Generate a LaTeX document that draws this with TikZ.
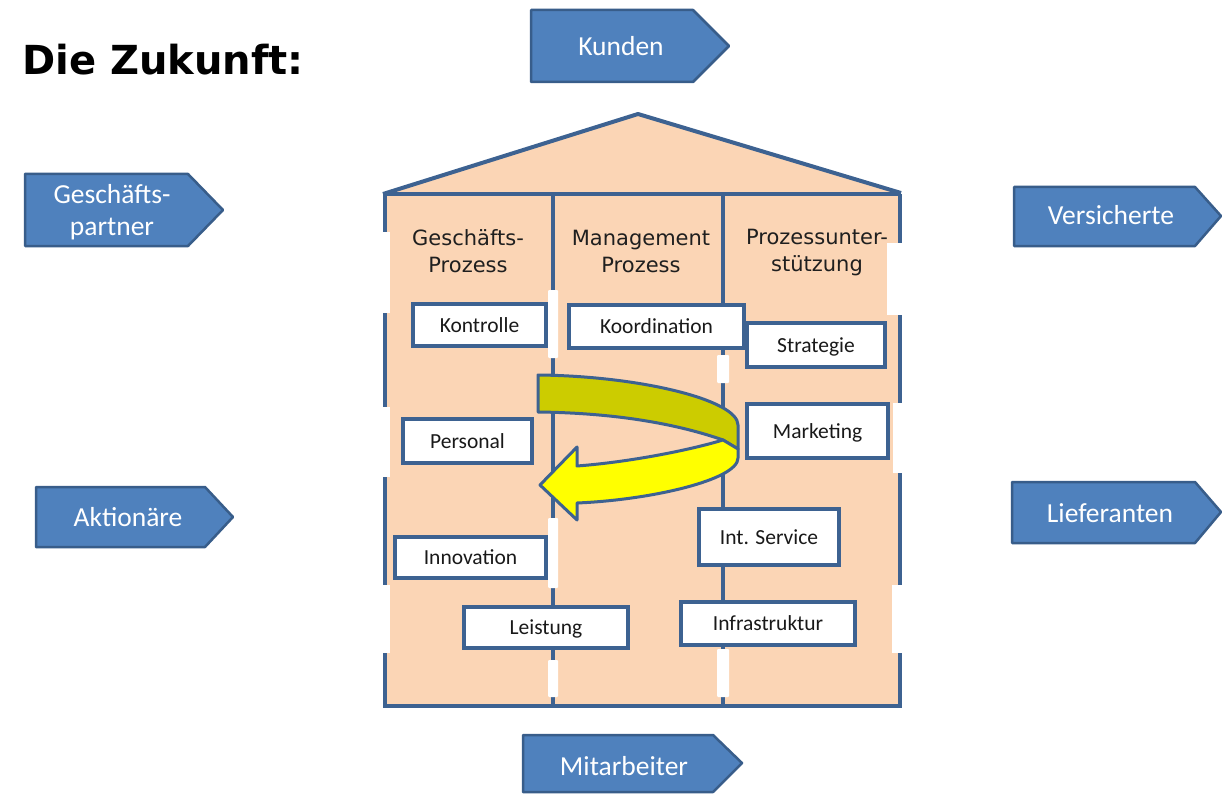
\documentclass[tikz,border=0pt]{standalone}
\usepackage{fontspec}
\setmainfont{Carlito}
\newfontfamily\verd{DejaVu Sans}
\definecolor{peach}{HTML}{FBD5B5}
\definecolor{lineblue}{HTML}{3D6291}
\definecolor{pfill}{HTML}{4F81BD}
\definecolor{pdraw}{HTML}{385D8A}
\definecolor{arrolive}{HTML}{CCCC00}
\definecolor{arryellow}{HTML}{FFFF00}
\begin{document}
\begin{tikzpicture}[x=1pt,y=-1pt,
  penta/.style={fill=pfill, draw=pdraw, line width=2.5pt, line join=round},
  ptext/.style={text=white, font=\fontsize{27.5}{32}\selectfont, align=center, inner sep=0pt},
  boxnode/.style={draw=lineblue, line width=3.5pt, fill=white, inner sep=0pt,
    font=\fontsize{21.5}{24}\selectfont, text=black!90, text height=18pt, text depth=4pt},
  hdr/.style={font=\verd\fontsize{21}{27}\selectfont, align=center, text=black!88, inner sep=0pt},
  wall/.style={draw=lineblue, line width=4pt},
  gap/.style={fill=white},
  arr/.style={draw=lineblue, line width=3pt, line join=round}]
\useasboundingbox[fill=white] (0,0) rectangle (1222,794);

% title
\node[anchor=base west, inner sep=0pt, font=\verd\bfseries\fontsize{40}{48}\selectfont] (title) at (22,75) {Die Zukunft:};

% pentagons
\draw[penta] (531,10) -- (693,10) -- (729,46) -- (693,82) -- (531,82) -- cycle;
\node[ptext, anchor=base] (kunden) at (621,56) {Kunden};
\draw[penta] (25,174) -- (188,174) -- (223,210) -- (188,246) -- (25,246) -- cycle;
\node[ptext] (gpartner) at (112,212) {Geschäfts-\\partner};
\draw[penta] (1014,187) -- (1195,187) -- (1221,216) -- (1195,246) -- (1014,246) -- cycle;
\node[ptext, anchor=base] (versicherte) at (1111,225) {Versicherte};
\draw[penta] (1012,482) -- (1195,482) -- (1221,512) -- (1195,543) -- (1012,543) -- cycle;
\node[ptext, anchor=base] (lieferanten) at (1110,522) {Lieferanten};
\draw[penta] (36,487) -- (205,487) -- (233,517) -- (205,547) -- (36,547) -- cycle;
\node[ptext, anchor=base] (aktionaere) at (128,526) {Aktionäre};
\draw[penta] (523,735) -- (713,735) -- (742,763) -- (713,792) -- (523,792) -- cycle;
\node[ptext, anchor=base] (mitarbeiter) at (624,775) {Mitarbeiter};

% house
\fill[peach] (383,194) -- (638,114) -- (901,194) -- (900,706) -- (385,706) -- cycle;
\draw[wall, line join=round] (383,194) -- (638,114) -- (901,193);
\draw[wall] (383,194) -- (901,194);
\draw[wall] (385,194) -- (385,706) -- (900,706) -- (900,194);
\draw[wall] (553,194) -- (553,706);
\draw[wall] (723,194) -- (723,706);

% gaps in the walls
\fill[gap] (370,232) rectangle (390,313);
\fill[gap] (370,407) rectangle (390,477);
\fill[gap] (370,585) rectangle (390,653);
\fill[gap, rounded corners=1pt] (548,290) rectangle (558,358);
\fill[gap, rounded corners=1pt] (548,518) rectangle (558,588);
\fill[gap, rounded corners=1pt] (548,660) rectangle (558,697);
\fill[gap, rounded corners=1pt] (717,355) rectangle (729,383);
\fill[gap, rounded corners=1pt] (717,649) rectangle (729,697);
\fill[gap] (887,243) rectangle (906,315);
\fill[gap] (893,403) rectangle (906,473);
\fill[gap] (892,585) rectangle (906,653);

% column headers
\node[hdr] (h1) at (468,251) {Geschäfts-\\Prozess};
\node[hdr] (h2) at (641,251) {Management\\Prozess};
\node[hdr] (h3) at (817,253) {Prozessunter-\\stützung};

% boxes
\node[boxnode, minimum width=133pt, minimum height=42pt] (kontrolle) at (479.5,325) {Kontrolle};
\node[boxnode, minimum width=175pt, minimum height=43pt] (koordination) at (656.5,326.5) {Koordination};
\node[boxnode, minimum width=138pt, minimum height=44pt] (strategie) at (816,345) {Strategie};
\node[boxnode, minimum width=129pt, minimum height=44pt] (personal) at (467.5,441) {Personal};
\node[boxnode, minimum width=141pt, minimum height=54pt] (marketing) at (817.5,431) {Marketing};
\node[boxnode, minimum width=151pt, minimum height=41pt] (innovation) at (470.5,557.5) {Innovation};
\node[boxnode, minimum width=140pt, minimum height=56pt] (intservice) at (769,537) {Int. Service};
\node[boxnode, minimum width=164pt, minimum height=41pt] (leistung) at (546,627.5) {Leistung};
\node[boxnode, minimum width=174pt, minimum height=43pt] (infra) at (768,623.5) {Infrastruktur};

% curved arrow
\filldraw[arr, fill=arrolive] (538,375) .. controls (640,376) and (738,400) .. (738,425)
  -- (738,449) -- (723,440) .. controls (680,425) and (620,413) .. (538,412) -- cycle;
\filldraw[arr, fill=arryellow] (723,440) .. controls (690,450) and (630,462) .. (577,466)
  -- (577,447) -- (540,485) -- (577,520) -- (577,503)
  .. controls (650,500) and (738,480) .. (738,458) -- (738,449) -- cycle;
\end{tikzpicture}
\end{document}
